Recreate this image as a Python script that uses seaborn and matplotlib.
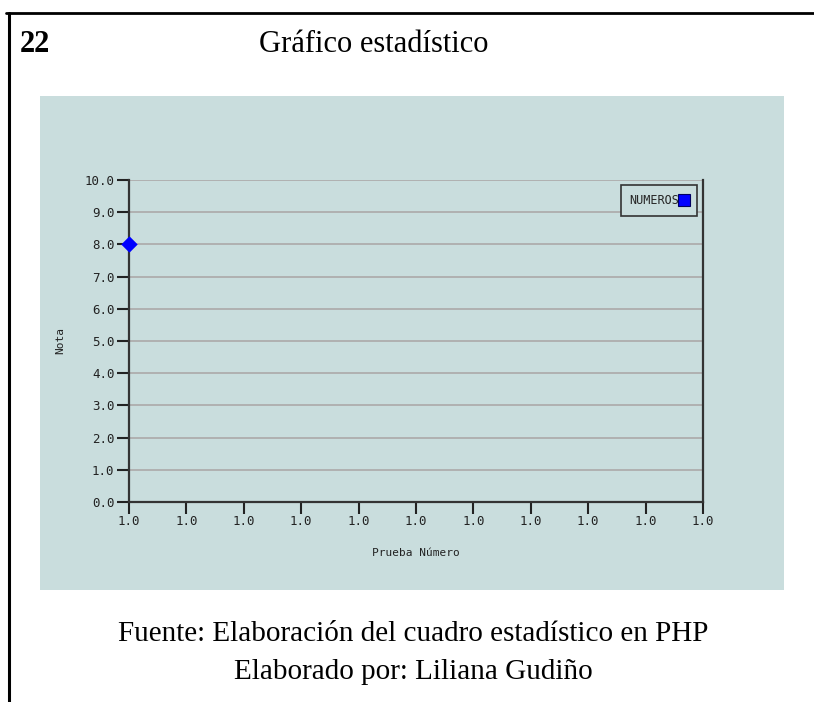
import matplotlib
matplotlib.use("Agg")
import matplotlib.pyplot as plt
from matplotlib.patches import Rectangle
from matplotlib.lines import Line2D
import seaborn as sns
import pandas as pd

# ---- data ----
prueba = ["1.0"]
nota = [8.0]
series_name = "NUMEROS"
x_tick_labels = ["1.0"] * 11
y_ticks = [0, 1, 2, 3, 4, 5, 6, 7, 8, 9, 10]
title_num = "22"
title_text = "Gráfico estadístico"
caption1 = "Fuente: Elaboración del cuadro estadístico en PHP"
caption2 = "Elaborado por: Liliana Gudiño"
xlabel = "Prueba Número"
ylabel = "Nota"

df = pd.DataFrame({"Prueba": prueba, "Nota": nota, "Serie": [series_name] * len(prueba)})

sns.set_theme(style="white")
plt.rcParams["font.family"] = ["DejaVu Sans Mono", "DejaVu Sans"]

W, H = 814, 702
fig = plt.figure(figsize=(W / 100, H / 100), dpi=100)
fig.patch.set_facecolor("white")

bg = "#c9dddd"
# panel background
fig.add_artist(Rectangle((40 / W, 1 - 590 / H), (784 - 40) / W, (590 - 96) / H,
                         transform=fig.transFigure, facecolor=bg, edgecolor="none", zorder=0))
# outer border lines
fig.add_artist(Line2D([6 / W, 1.0], [1 - 13 / H, 1 - 13 / H], transform=fig.transFigure,
                      color="black", lw=2.0))
fig.add_artist(Line2D([9 / W, 9 / W], [1 - 13 / H, 0], transform=fig.transFigure,
                      color="black", lw=2.2))

ax = fig.add_axes([129 / W, 1 - 502 / H, (703 - 129) / W, (502 - 180) / H])
ax.set_facecolor(bg)

sns.scatterplot(data=df, x="Prueba", y="Nota", hue="Serie", palette=["#0000ff"],
                marker="D", s=70, edgecolor="#0000ff", linewidth=0, ax=ax,
                legend=False, zorder=5, clip_on=False)

ax.set_xlim(0, 10)
ax.set_ylim(0, 10)
ax.set_xticks(range(len(x_tick_labels)))
ax.set_xticklabels(x_tick_labels)
ax.set_yticks(y_ticks)
ax.set_yticklabels([f"{v:.1f}" for v in y_ticks])
ax.tick_params(axis="both", which="both", labelsize=9, colors="#222222",
               direction="out", length=8.5, width=1.5, bottom=True, left=True)
ax.tick_params(axis="x", pad=1)
ax.tick_params(axis="y", pad=2)
ax.yaxis.grid(True, color="#b0b0b0", lw=1.4)
ax.xaxis.grid(False)
ax.set_axisbelow(True)

for side in ["left", "bottom", "right"]:
    ax.spines[side].set_visible(True)
    ax.spines[side].set_color("#333333")
    ax.spines[side].set_linewidth(1.6)
ax.spines["top"].set_visible(False)

ax.set_xlabel(xlabel, fontsize=8, color="#222222", labelpad=14)
ax.set_ylabel(ylabel, fontsize=8, color="#222222", labelpad=14)

handle = Line2D([], [], marker="s", linestyle="none", markersize=8,
                markerfacecolor="#0000ff", markeredgecolor="#000060", markeredgewidth=0.8)
leg = ax.legend([handle], [series_name], loc="upper right", bbox_to_anchor=(0.989, 0.985),
                markerfirst=False, frameon=True, fancybox=False, fontsize=8.5,
                handlelength=0.6, handletextpad=0.1, borderpad=0.75, borderaxespad=0.0)
leg.get_frame().set_edgecolor("#333333")
leg.get_frame().set_facecolor(bg)
leg.get_frame().set_linewidth(1.2)
leg.get_frame().set_alpha(1)

serif = ["Liberation Serif", "DejaVu Serif"]
fig.text(20 / W, 1 - 45 / H, title_num, fontsize=22, fontweight="bold", family=serif,
         va="center", ha="left", color="black")
fig.text(374 / W, 1 - 45 / H, title_text, fontsize=22, family=serif, va="center",
         ha="center", color="black")
fig.text(413 / W, 1 - 634 / H, caption1, fontsize=21, family=serif, va="center",
         ha="center", color="black")
fig.text(413 / W, 1 - 672 / H, caption2, fontsize=21, family=serif, va="center",
         ha="center", color="black")

fig.savefig("out.png", dpi=100, facecolor="white")
